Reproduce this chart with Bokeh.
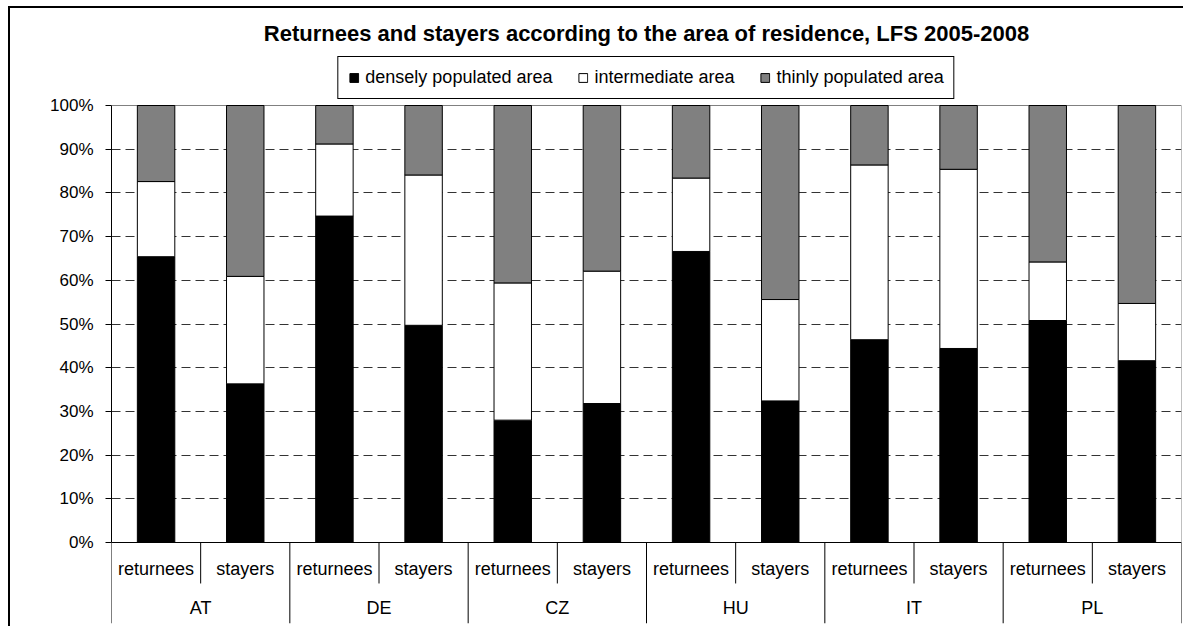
from bokeh.plotting import figure
from bokeh.models import (FactorRange, Range1d, ColumnDataSource, Legend, LegendItem,
                          LinearAxis, CategoricalAxis, FixedTicker, NumeralTickFormatter,
                          CustomJSTickFormatter)
from bokeh.embed import file_html
from bokeh.resources import INLINE

countries = ["AT", "DE", "CZ", "HU", "IT", "PL"]
groups = ["returnees", "stayers"]
series_names = ["densely populated area", "intermediate area", "thinly populated area"]
# shares (fractions) per bar, order: AT ret, AT stay, DE ret, DE stay, ...
dense = [0.654, 0.363, 0.747, 0.497, 0.280, 0.318, 0.666, 0.324, 0.464, 0.444, 0.508, 0.416]
intermediate = [0.172, 0.246, 0.165, 0.344, 0.314, 0.303, 0.168, 0.232, 0.400, 0.410, 0.134, 0.131]
thin = [0.174, 0.391, 0.088, 0.159, 0.406, 0.379, 0.166, 0.444, 0.136, 0.146, 0.358, 0.453]
y_ticks = [0.0, 0.1, 0.2, 0.3, 0.4, 0.5, 0.6, 0.7, 0.8, 0.9, 1.0]
colors = ["#000000", "#ffffff", "#808080"]

factors = [f"{c} {g}" for c in countries for g in groups]

src = ColumnDataSource(dict(x=factors, dense=dense, inter=intermediate, thin=thin))

y_bottom = -0.1854
y_top = 1.1259
p = figure(x_range=FactorRange(factors=factors, range_padding=0, factor_padding=0),
           y_range=Range1d(y_bottom, y_top),
           width=1175, height=620, output_backend="svg", toolbar_location=None,
           min_border_left=101, min_border_right=4, min_border_top=42, min_border_bottom=5,
           x_axis_location=None, y_axis_location=None,
           styles={"margin-top": "6px", "margin-left": "8px",
                   "border-top": "2px solid black", "border-left": "2px solid black"})
p.outline_line_color = None
p.background_fill_color = "white"
p.border_fill_color = "white"

p.title.text = "Returnees and stayers according to the area of residence, LFS 2005-2008"
p.title.text_font = "Liberation Sans"
p.title.text_font_size = "22px"
p.title.text_font_style = "bold"
p.title.text_color = "black"
p.title.align = "center"
p.title.standoff = 10

# grid
p.xgrid.visible = False
p.ygrid.ticker = FixedTicker(ticks=y_ticks[1:-1])
p.ygrid.grid_line_color = "#333333"
p.ygrid.grid_line_dash = "9 5"
p.ygrid.grid_line_width = 1

# y axis
yax = LinearAxis(ticker=FixedTicker(ticks=y_ticks, minor_ticks=[]),
                 formatter=NumeralTickFormatter(format="0%"), bounds=(0, 1))
yax.axis_line_color = "black"
yax.major_tick_out = 6
yax.major_tick_in = 0
yax.major_tick_line_color = "black"
yax.major_label_standoff = 12
yax.major_label_text_font = "Liberation Sans"
yax.major_label_text_font_size = "17px"
yax.major_label_text_color = "black"
p.add_layout(yax, "left")

# plot area top / right border
first, last = factors[0], factors[-1]
p.segment(x0=[(first, -0.5), (last, 0.5)], y0=[1.0, 0.0],
          x1=[(last, 0.5), (last, 0.5)], y1=[1.0, 1.0],
          line_color="#808080", line_width=1)

# bars
rs = p.vbar_stack(["dense", "inter", "thin"], x="x", width=0.42, source=src,
                  fill_color=colors, line_color="black", line_width=1)

# x axis (sub-category labels)
xax = CategoricalAxis(fixed_location=0,
                      formatter=CustomJSTickFormatter(code="return tick.split(' ').slice(1).join(' ');"))
xax.axis_line_color = "black"
xax.major_tick_line_color = None
xax.major_tick_out = 0
xax.major_tick_in = 0
xax.major_label_standoff = 17
xax.major_label_text_font = "Liberation Sans"
xax.major_label_text_font_size = "18px"
xax.major_label_text_color = "black"
p.add_layout(xax, "below")

# country labels
p.extra_x_ranges = {"countries": FactorRange(factors=countries, range_padding=0, factor_padding=0)}
cax = CategoricalAxis(x_range_name="countries", fixed_location=0)
cax.axis_line_color = None
cax.major_tick_line_color = None
cax.major_tick_out = 0
cax.major_tick_in = 0
cax.major_label_standoff = 56
cax.major_label_text_font = "Liberation Sans"
cax.major_label_text_font_size = "18px"
cax.major_label_text_color = "black"
p.add_layout(cax, "below")

# separators below axis
sub_x = [(f"{c} {groups[0]}", 0.5) for c in countries]
p.segment(x0=sub_x, x1=sub_x, y0=[0.0] * len(sub_x), y1=[-0.0938] * len(sub_x),
          line_color="black", line_width=1)
grp_x = [(f"{c} {groups[0]}", -0.5) for c in countries] + [(last, 0.5)]
p.segment(x0=grp_x, x1=grp_x, y0=[0.0] * len(grp_x), y1=[y_bottom] * len(grp_x),
          line_color="black", line_width=1)

legend = Legend(items=[LegendItem(label=n, renderers=[r]) for n, r in zip(series_names, rs)],
                orientation="horizontal", location="top_center")
legend.glyph_width = 11
legend.glyph_height = 11
legend.label_standoff = 6
legend.spacing = 25
legend.padding = 10
legend.margin = 6
legend.label_text_font = "Liberation Sans"
legend.label_text_font_size = "18px"
legend.label_text_color = "black"
legend.border_line_color = "black"
legend.border_line_width = 1
legend.border_line_alpha = 1
legend.background_fill_alpha = 1
p.add_layout(legend, "center")

open("out.html", "w").write(file_html(p, INLINE))
